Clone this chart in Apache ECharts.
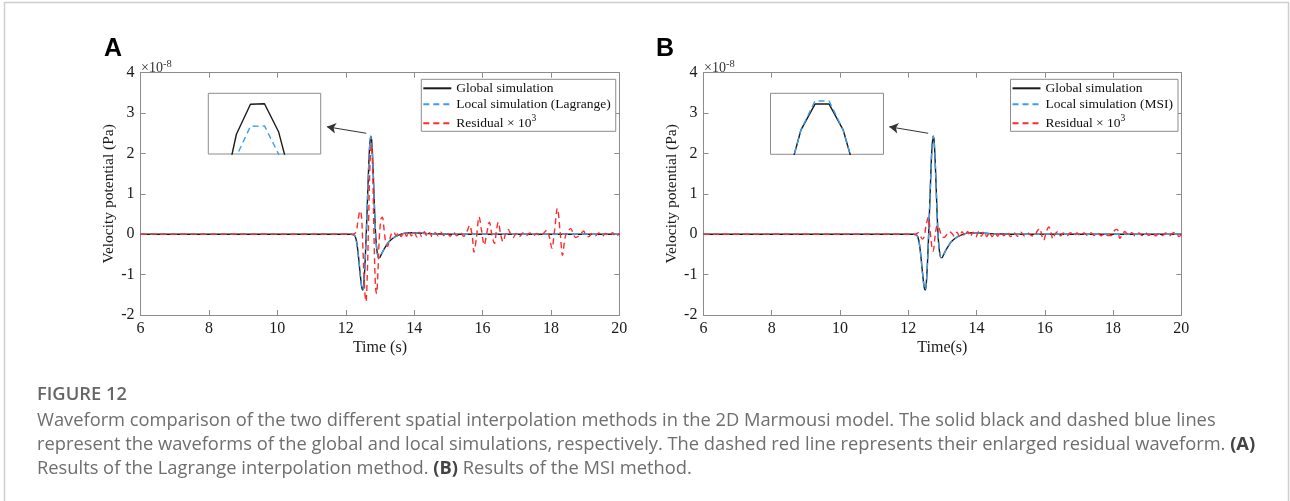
<!DOCTYPE html>
<html><head><meta charset="utf-8">
<script src="https://cdn.jsdelivr.net/npm/echarts@6/dist/echarts.min.js"></script>
<style>html,body{margin:0;padding:0;background:#fff}#c{width:1290px;height:501px}</style>
</head><body><div id="c"></div><script>
// ---------- data (values in units of 1e-8 Pa, time in s) ----------
const tWave = [6.0, 12.0, 12.15, 12.22, 12.28, 12.33, 12.38, 12.43, 12.47, 12.50, 12.53, 12.57, 12.61, 12.65, 12.69, 12.73, 12.76, 12.80, 12.84, 12.88, 12.92, 12.96, 12.99, 13.04, 13.10, 13.17, 13.25, 13.35, 13.45, 13.55, 13.70, 13.90, 14.10, 14.40, 14.80, 15.20, 20.0];
const globalSim = [0, 0, 0, -0.01, -0.06, -0.25, -0.62, -1.05, -1.32, -1.38, -1.22, -0.60, 0.25, 1.20, 2.05, 2.43, 2.30, 1.60, 0.65, -0.10, -0.45, -0.58, -0.58, -0.50, -0.40, -0.30, -0.20, -0.12, -0.06, -0.02, 0.02, 0.035, 0.03, 0.015, 0.005, 0, 0];
const localLagrange = [0, 0, 0, -0.01, -0.06, -0.25, -0.62, -1.05, -1.32, -1.38, -1.22, -0.60, 0.25, 1.20, 2.05, 2.42, 2.30, 1.60, 0.65, -0.10, -0.45, -0.58, -0.58, -0.50, -0.40, -0.30, -0.20, -0.12, -0.06, -0.02, 0.02, 0.035, 0.03, 0.015, 0.005, 0, 0];
const localMSI = [0, 0, 0, -0.01, -0.06, -0.25, -0.62, -1.05, -1.32, -1.38, -1.22, -0.60, 0.25, 1.20, 2.05, 2.43, 2.30, 1.60, 0.65, -0.10, -0.45, -0.58, -0.58, -0.50, -0.40, -0.30, -0.20, -0.12, -0.06, -0.02, 0.02, 0.035, 0.03, 0.015, 0.005, 0, 0];

const tResA = [6.0, 12.20, 12.30, 12.36, 12.42, 12.46, 12.50, 12.55, 12.59, 12.63, 12.67, 12.71, 12.75, 12.79, 12.83, 12.87, 12.90, 12.94, 12.98, 13.03, 13.07, 13.12, 13.17, 13.22, 13.28, 13.34, 13.40, 13.47, 13.55, 13.62, 13.70, 13.78, 13.85, 13.92, 14.00, 14.08, 14.15, 14.22, 14.30, 14.38, 14.45, 14.53, 14.62, 14.70, 14.78, 14.86, 14.95, 15.05, 15.15, 15.25, 15.35, 15.45, 15.55, 15.62, 15.70, 15.75, 15.82, 15.90, 15.97, 16.05, 16.12, 16.20, 16.27, 16.35, 16.40, 16.46, 16.53, 16.60, 16.67, 16.75, 16.83, 16.90, 16.98, 17.08, 17.18, 17.28, 17.38, 17.48, 17.58, 17.68, 17.78, 17.88, 17.95, 18.03, 18.10, 18.19, 18.27, 18.34, 18.41, 18.47, 18.52, 18.58, 18.65, 18.72, 18.80, 18.88, 18.96, 19.02, 19.10, 19.20, 19.30, 19.40, 19.50, 19.60, 19.70, 19.80, 19.90, 20.0];
const residualA = [0, 0, 0.05, 0.35, 0.58, 0.45, -0.30, -1.35, -1.67, -1.00, 0.40, 1.75, 2.22, 1.50, -0.20, -1.30, -1.47, -0.95, -0.10, 0.38, 0.42, 0.12, -0.22, -0.30, -0.15, 0.02, 0.06, -0.03, 0.05, -0.06, 0.06, -0.05, 0.07, -0.04, 0.06, -0.07, 0.05, -0.06, 0.06, -0.05, 0.04, -0.06, 0.04, -0.04, 0.05, -0.03, 0.04, -0.05, 0.05, -0.04, 0.04, -0.05, 0.08, 0.22, -0.05, -0.44, -0.10, 0.43, 0.10, -0.27, 0.00, 0.30, 0.00, -0.23, 0.05, 0.30, 0.00, -0.19, 0.00, 0.12, -0.02, -0.08, 0.02, -0.06, 0.03, -0.04, 0.03, -0.05, 0.02, -0.04, 0.02, 0.10, -0.05, -0.35, 0.05, 0.64, 0.05, -0.52, -0.10, 0.06, 0.10, 0.14, 0.02, -0.08, -0.05, 0.02, 0.08, -0.03, -0.06, 0.02, -0.04, 0.03, -0.05, 0.02, -0.04, 0.04, -0.06, 0.02];

const tResB = [6.0, 12.20, 12.30, 12.36, 12.42, 12.47, 12.53, 12.59, 12.64, 12.69, 12.73, 12.78, 12.83, 12.88, 12.93, 12.98, 13.05, 13.12, 13.20, 13.28, 13.35, 13.43, 13.50, 13.58, 13.66, 13.74, 13.82, 13.90, 13.98, 14.06, 14.14, 14.22, 14.30, 14.38, 14.46, 14.54, 14.62, 14.70, 14.80, 14.90, 15.00, 15.10, 15.20, 15.30, 15.40, 15.50, 15.60, 15.70, 15.78, 15.85, 15.92, 15.97, 16.04, 16.12, 16.18, 16.24, 16.30, 16.38, 16.46, 16.55, 16.65, 16.75, 16.85, 16.95, 17.05, 17.15, 17.25, 17.35, 17.45, 17.55, 17.65, 17.75, 17.85, 17.95, 18.05, 18.12, 18.20, 18.28, 18.35, 18.45, 18.55, 18.65, 18.75, 18.85, 18.95, 19.05, 19.15, 19.25, 19.35, 19.45, 19.55, 19.65, 19.75, 19.85, 19.93, 20.0];
const residualB = [0, 0, 0.04, -0.05, -0.12, -0.05, 0.25, 0.42, 0.10, -0.30, -0.42, -0.10, 0.18, 0.22, 0.08, -0.05, -0.08, -0.02, 0.06, 0.02, -0.05, 0.05, -0.06, 0.06, -0.05, 0.07, -0.06, 0.05, -0.07, 0.06, -0.05, 0.07, -0.06, 0.05, -0.06, 0.04, -0.05, 0.06, -0.04, 0.05, -0.06, 0.04, -0.05, 0.05, -0.04, 0.03, -0.03, -0.05, 0.08, 0.14, -0.05, -0.15, 0.05, 0.18, 0.05, -0.12, 0.00, 0.06, -0.04, 0.03, -0.04, 0.04, -0.03, 0.03, -0.04, 0.03, -0.03, 0.04, -0.03, 0.03, -0.04, 0.02, -0.03, -0.03, 0.10, 0.12, -0.10, 0.02, 0.06, -0.03, 0.04, -0.04, 0.03, -0.03, 0.04, -0.03, 0.03, -0.04, 0.03, -0.03, 0.03, -0.04, 0.03, 0.05, -0.06, 0.00];

// zoomed view of the main peak (insets)
const tInset = [12.70, 12.71, 12.72, 12.73, 12.74, 12.75, 12.76, 12.77];
const insetGlobalA = [2.20, 2.3013, 2.386, 2.4255, 2.4263, 2.3894, 2.3191, 2.22];
const insetLocalA  = [2.17, 2.272, 2.357, 2.3965, 2.397, 2.360, 2.290, 2.19];
const insetGlobalB = [2.22, 2.3238, 2.3916, 2.4259, 2.4259, 2.3916, 2.3267, 2.22];
const insetLocalB  = [2.22, 2.3238, 2.3916, 2.4299, 2.4299, 2.3916, 2.3267, 2.22];

const legendNamesA = ['Global simulation', 'Local simulation (Lagrange)', 'Residual × 10^3'];
const legendNamesB = ['Global simulation', 'Local simulation (MSI)', 'Residual × 10^3'];
const xTitles = ['Time (s)', 'Time(s)'];
const yTitle = 'Velocity potential (Pa)';
const panelLetters = ['A', 'B'];
const captionTitle = 'FIGURE 12';
const captionLines = [
  'Waveform comparison of the two different spatial interpolation methods in the 2D Marmousi model. The solid black and dashed blue lines',
  'represent the waveforms of the global and local simulations, respectively. The dashed red line represents their enlarged residual waveform. {b|(A)}',
  'Results of the Lagrange interpolation method. {b|(B)} Results of the MSI method.'
];

// ---------- chart ----------
const pairs = (t, v) => t.map((x, i) => [x, v[i]]);
const SERIF = 'Liberation Serif';
const CAP = 'Open Sans';
const AX = '#8c8c8c';
const BLACK = '#1a1a1a', BLUE = '#3d9df0', RED = '#ff2b2b';
const TICK_FONT = 16;

// caption font size fitted to the reference line width
const mctx = document.createElement('canvas').getContext('2d');
mctx.font = '16px "' + CAP + '"';
const capSize = 16 * 1180 / mctx.measureText(captionLines[0]).width;
mctx.font = '600 16px "' + CAP + '"';
const titleSize = 16 * 90 / mctx.measureText(captionTitle).width;

const grids = [
  {left: 140.6, top: 72.7, width: 478.7, height: 242.3},
  {left: 703.4, top: 72.7, width: 477.9, height: 242.3},
  {left: 208.3, top: 93.3, width: 112.4, height: 60.7, show: true, borderColor: '#8c8c8c', borderWidth: 1, backgroundColor: '#fff', z: 5},
  {left: 770.5, top: 93.3, width: 113, height: 61, show: true, borderColor: '#8c8c8c', borderWidth: 1, backgroundColor: '#fff', z: 5}
];

function tickLabel(show) {
  return {show, margin: 6, color: '#1a1a1a', fontSize: TICK_FONT, fontFamily: SERIF};
}
function mainX(gi, pos, title) {
  return {
    type: 'value', gridIndex: gi, position: pos, min: 6, max: 20, interval: 2,
    name: title || '', nameLocation: 'middle', nameGap: 25,
    nameTextStyle: {fontFamily: SERIF, fontSize: 16, color: '#1a1a1a'},
    axisLine: {show: true, onZero: false, lineStyle: {color: AX, width: 1}},
    axisTick: {show: true, inside: true, length: 5, lineStyle: {color: AX}},
    axisLabel: tickLabel(pos === 'bottom'),
    splitLine: {show: false}
  };
}
function mainY(gi, pos, title) {
  return {
    type: 'value', gridIndex: gi, position: pos, min: -2, max: 4, interval: 1,
    name: title || '', nameLocation: 'middle', nameGap: 21,
    nameTextStyle: {fontFamily: SERIF, fontSize: 15.5, color: '#1a1a1a'},
    axisLine: {show: true, onZero: false, lineStyle: {color: AX, width: 1}},
    axisTick: {show: true, inside: true, length: 5, lineStyle: {color: AX}},
    axisLabel: tickLabel(pos === 'left'),
    splitLine: {show: false}
  };
}
function insetAxis(gi, min, max) {
  return {type: 'value', gridIndex: gi, min, max, show: false, splitLine: {show: false}};
}

const xAxes = [
  mainX(0, 'bottom', xTitles[0]), mainX(0, 'top'),
  mainX(1, 'bottom', xTitles[1]), mainX(1, 'top'),
  insetAxis(2, 12.700, 12.780), insetAxis(3, 12.6985, 12.7785)
];
const yAxes = [
  mainY(0, 'left', yTitle), mainY(0, 'right'),
  mainY(1, 'left', yTitle), mainY(1, 'right'),
  insetAxis(2, 2.36, 2.44), insetAxis(3, 2.36, 2.44)
];

function lineSeries(name, xi, yi, data, color, dashed, z, smooth) {
  return {
    name, type: 'line', xAxisIndex: xi, yAxisIndex: yi, data,
    showSymbol: false, symbol: 'none', smooth: smooth, z: z, silent: true,
    lineStyle: {color, width: 1.4, type: dashed ? [6, 4] : 'solid'},
    itemStyle: {color}, animation: false
  };
}
function arrowLine(t0, v0, t1, v1) {
  return {
    silent: true, animation: false, symbol: ['none', 'arrow'], symbolSize: [8, 9],
    lineStyle: {color: '#333', width: 1, type: 'solid'}, label: {show: false},
    data: [[{coord: [t0, v0]}, {coord: [t1, v1]}]]
  };
}

const gA = lineSeries(legendNamesA[0], 0, 0, pairs(tWave, globalSim), BLACK, false, 2, 0.3);
gA.markLine = arrowLine(12.598, 2.50, 11.449, 2.662);
const gB = lineSeries(legendNamesB[0], 2, 2, pairs(tWave, globalSim), BLACK, false, 2, 0.3);
gB.markLine = arrowLine(12.585, 2.50, 11.445, 2.662);

const series = [
  gA,
  lineSeries(legendNamesA[1], 0, 0, pairs(tWave, localLagrange), BLUE, true, 3, 0.3),
  lineSeries(legendNamesA[2], 0, 0, pairs(tResA, residualA), RED, true, 4, 0.35),
  gB,
  lineSeries(legendNamesB[1], 2, 2, pairs(tWave, localMSI), BLUE, true, 3, 0.3),
  lineSeries(legendNamesB[2], 2, 2, pairs(tResB, residualB), RED, true, 4, 0.35),
  lineSeries('inset global A', 4, 4, pairs(tInset, insetGlobalA), BLACK, false, 6, false),
  lineSeries('inset local A', 4, 4, pairs(tInset, insetLocalA), BLUE, true, 7, false),
  lineSeries('inset global B', 5, 5, pairs(tInset, insetGlobalB), BLACK, false, 6, false),
  lineSeries('inset local B', 5, 5, pairs(tInset, insetLocalB), BLUE, true, 7, false)
];

function legendBox(names, left) {
  return {
    data: names, orient: 'vertical', left, top: 79.3, itemWidth: 28, itemHeight: 14, itemGap: 2,
    padding: [2, 5, 1, 1], borderColor: '#8c8c8c', borderWidth: 1, backgroundColor: '#fff',
    selectedMode: false, z: 6,
    itemStyle: {opacity: 0, borderWidth: 0},
    formatter: n => n.indexOf('^') >= 0 ? '{t|' + n.split('^')[0] + '}{s|' + n.split('^')[1] + '}' : '{t|' + n + '}',
    textStyle: {
      fontFamily: SERIF, fontSize: 13.5, color: '#111',
      rich: {
        t: {fontFamily: SERIF, fontSize: 13.5, color: '#111'},
        s: {fontFamily: SERIF, fontSize: 9.5, color: '#111', padding: [0, 0, 10, 0]}
      }
    }
  };
}

const expText = {
  text: '{a|×10}{b|-8}',
  rich: {a: {fontFamily: SERIF, fontSize: 14, fill: '#333', padding: [7, 0, 0, 0]}, b: {fontFamily: SERIF, fontSize: 10.5, fill: '#333'}}
};
const graphic = [
  {type: 'rect', shape: {x: 4.5, y: 2.5, width: 1284, height: 520}, style: {fill: 'none', stroke: '#cfcfcf', lineWidth: 1.5}, silent: true, z: 0},
  {type: 'text', x: 104, y: 37, style: {text: panelLetters[0], font: 'bold 25px "Liberation Sans", Arial, sans-serif', fill: '#000'}},
  {type: 'text', x: 656, y: 37, style: {text: panelLetters[1], font: 'bold 25px "Liberation Sans", Arial, sans-serif', fill: '#000'}},
  {type: 'text', x: 141, y: 54, style: expText},
  {type: 'text', x: 704, y: 54, style: expText},
  {type: 'text', x: 37, y: 386, style: {text: captionTitle, font: '600 ' + titleSize.toFixed(2) + 'px "' + CAP + '"', fill: '#666'}}
];
captionLines.forEach((ln, i) => {
  graphic.push({type: 'text', x: 37, y: 412 + i * 23.7, style: {
    text: ln, fontFamily: CAP, fontSize: capSize, fill: '#6e6e6e',
    rich: {b: {fontFamily: CAP, fontSize: capSize, fontWeight: 'bold', fill: '#444'}}
  }});
});

const chart = echarts.init(document.getElementById('c'), null, {renderer: 'canvas'});
chart.setOption({
  animation: false,
  backgroundColor: '#fff',
  grid: grids,
  xAxis: xAxes,
  yAxis: yAxes,
  legend: [legendBox(legendNamesA, 421.3), legendBox(legendNamesB, 1010.5)],
  series,
  graphic
});
</script></body></html>
